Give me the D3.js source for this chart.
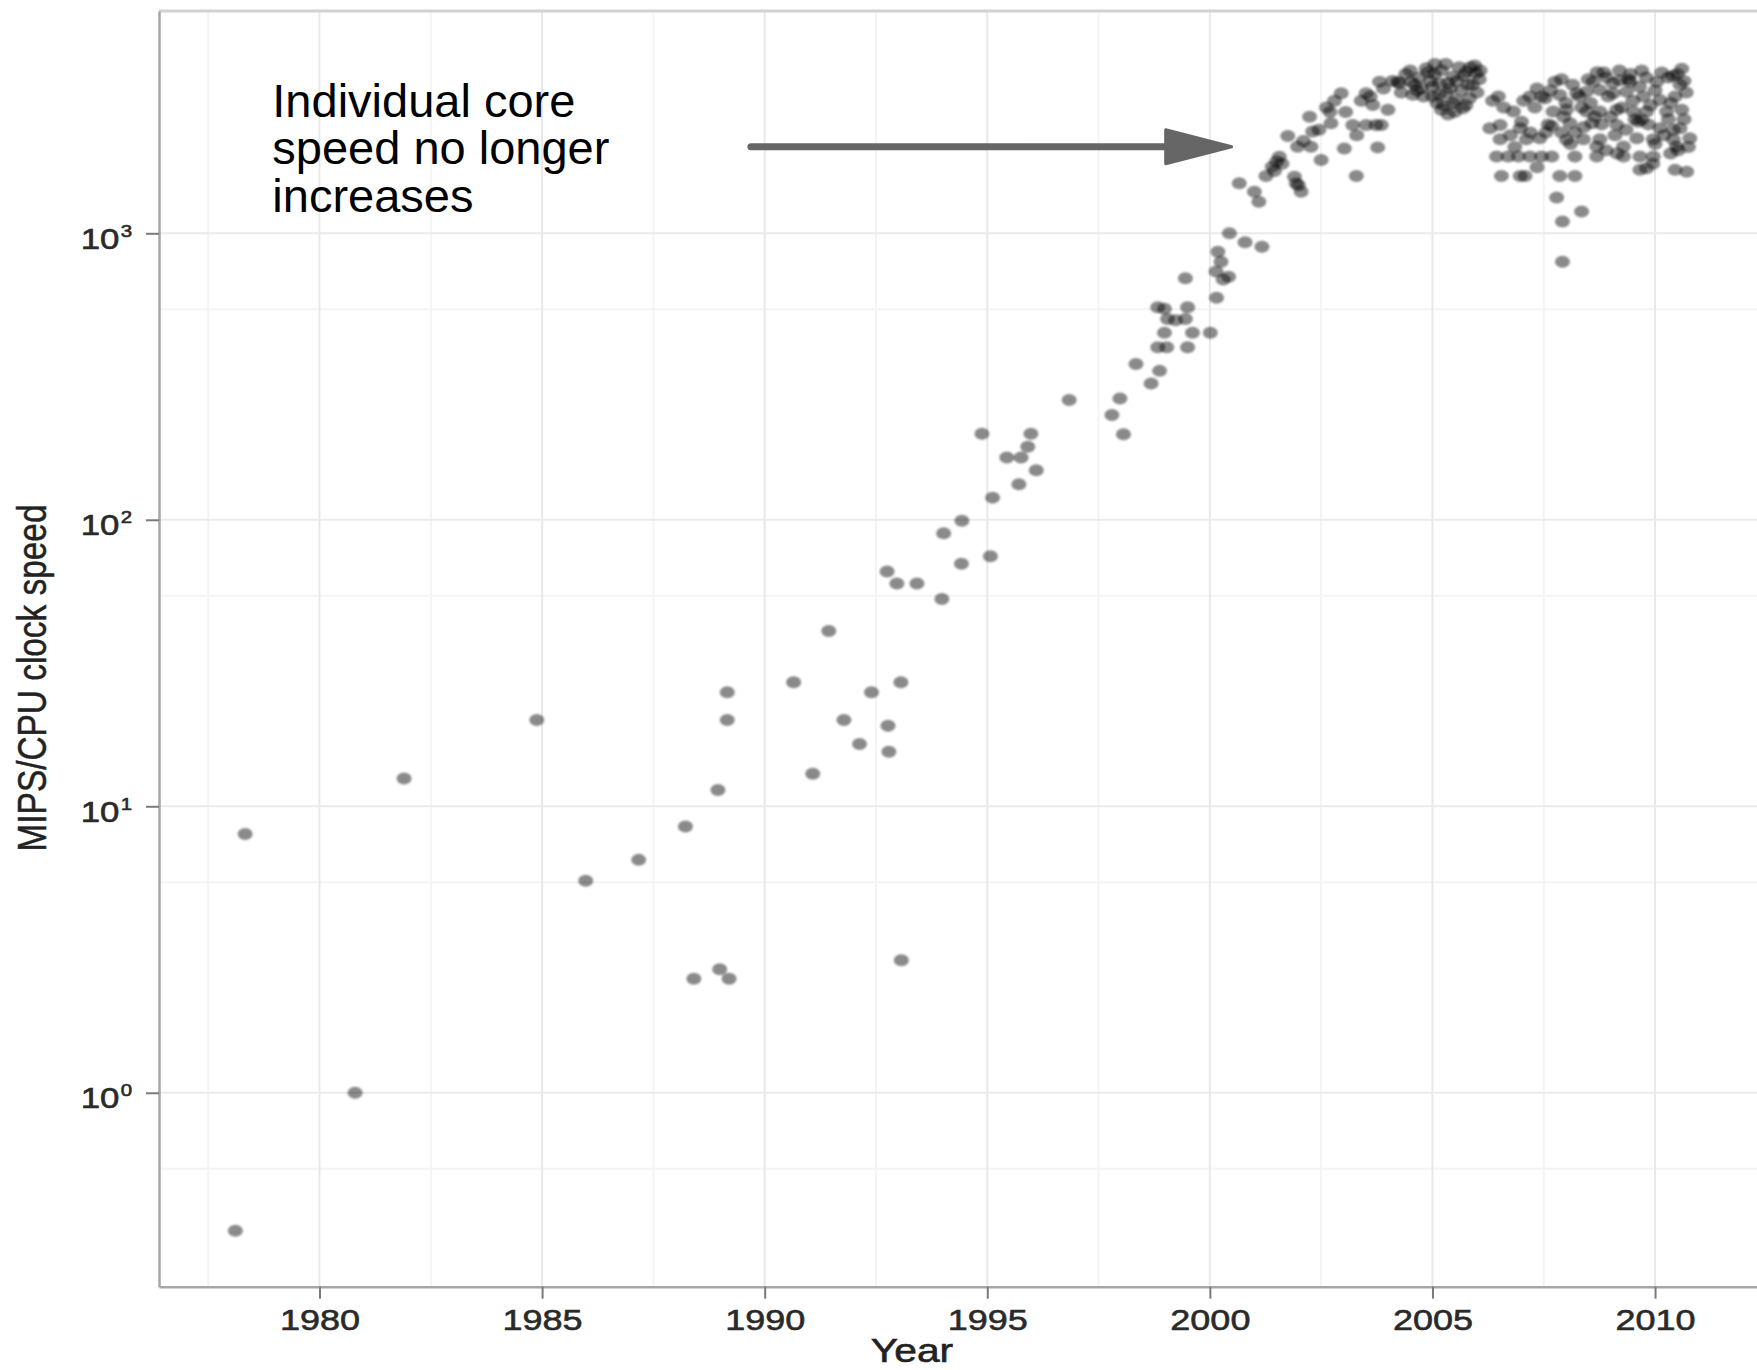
<!DOCTYPE html>
<html><head><meta charset="utf-8">
<script src="https://cdn.jsdelivr.net/npm/d3@7"></script>
<style>body{margin:0;background:#fff}svg{display:block}</style>
</head><body><svg id="chart" width="1757" height="1370"></svg>
<script>
// ---------- data ----------
const years = [
1978.11,1978.33,1980.80,1981.90,1984.88,1985.98,1987.17,1988.22,1988.41,1988.95,1988.99,1989.16,1989.16,1989.20,
1990.65,1991.08,1991.44,1991.78,1992.13,1992.40,1992.75,1992.77,1992.79,1992.97,1993.06,1993.07,1993.42,1993.98,
1994.02,1994.42,1994.43,1994.88,1995.07,1995.12,1995.44,1995.71,1995.76,1995.91,1995.98,1996.10,1996.84,
1997.80,1997.98,1998.06,1998.34,1998.68,1998.87,1998.83,1999.03,1999.50,1998.98,1999.61,2000.01,1999.05,1999.23,
1999.45,1998.83,1998.98,1999.50,2000.15,1999.45,2000.30,2000.42,2000.14,2000.25,2000.18,2000.44,2000.79,2001.17,
2000.66,2001.00,2001.10,2001.26,2001.40,2001.50,2001.56,2001.75,2001.90,2001.94,2001.99,2002.05,2001.97,2002.27,
2002.31,2002.50,2002.24,2002.62,2002.70,2002.72,2002.95,2003.02,2003.29,2003.21,2003.51,2003.73,2003.85,2003.51,
2003.60,2003.66,2003.81,2003.77,2004.26,2004.52,2004.56,2004.30,
2001.45,2001.62,2002.10,2002.45,2002.80,2003.05,2003.40,2003.90,2004.10,2003.30,2004.00,
2004.86,2005.04,2005.16,2005.01,2005.31,2005.53,2005.68,2005.46,2005.76,2005.98,2005.83,2004.95,2005.20,2005.40,
2005.10,2005.60,2004.70,2004.75,2005.90,2005.25,2005.05,2005.55,2006.07,2005.80,2006.00,2005.35,2005.50,2004.22,
2004.40,2004.60,2004.80,2004.90,2005.00,2005.15,2005.30,2005.35,2005.45,2005.65,2005.70,2005.85,2006.05,2004.50,
2005.20,2005.75,2005.95,2004.65,
2007.92,2007.92,2007.79,2008.35,2006.55,2006.97,2007.08,2007.86,2008.20,2009.66,2009.81,2010.45,2010.71,
2006.44,2006.70,2006.93,2007.19,2007.45,2007.68,2008.20,2008.69,2009.29,2009.66,2009.96,
2008.69,2009.29,2010.48,2010.52,
2006.52,2007.11,2007.41,2008.01,2008.39,2008.76,2009.59,2009.96,2010.41,2010.78,
2006.29,2006.52,2006.97,2007.68,2007.60,2008.09,2008.58,2009.14,2009.70,2009.62,2010.11,2010.41,2010.56,
2006.82,2007.71,2008.01,2008.46,2008.76,2009.14,2009.51,2009.81,2010.26,2010.60,
2006.48,2007.19,2007.53,2007.45,2007.86,2008.24,2008.30,2008.46,2008.76,2009.06,2009.36,2009.74,2010.11,2010.56,2010.45,
2007.75,2008.61,2008.91,2009.21,2009.44,2010.04,2010.30,2008.85,2009.20,2009.45,2010.15,2010.40,
2007.30,2008.00,2008.55,2009.00,2009.35,2009.90,2010.30,2007.00,2008.90,2010.00,2007.90,2009.50,2010.65,2007.20,2008.40,
2006.35,2006.60,2006.75,2007.05,2007.35,2007.55,2007.65,2007.95,2008.15,2008.20,2008.35,2008.50,2008.65,2008.80,
2008.95,2009.05,2009.10,2009.25,2009.40,2009.55,2009.65,2009.80,2009.85,2010.00,2010.20,2010.35,2010.50,2010.65,
2010.70,2010.75,2009.70,2010.60,2008.70,2007.90,2008.10,2009.15,2006.85,2007.35,2009.95,2010.35
];
const mips = [
0.33,8.0,1.0,12.5,20.0,5.5,6.5,8.5,2.5,11.4,2.7,25.0,20.0,2.5,
27.1,13.0,40.9,20.0,16.5,25.0,66,19.1,15.5,59.9,27.1,2.9,59.9,52.9,
89.8,70.2,99.3,199.5,74.6,119.5,165,133,165,180,199.5,149,262,
232,265,199,350,299,331,400,400,400,450,450,450,502,497,
502,552,545,552,596,697,690,705,735,796,863,1000,931,898,
1496,1397,1289,1585,1709,1780,1850,2188,1577,1496,1470,1397,2005,2005,
2265,1803,2552,2750,2650,2421,3084,1978,1585,2389,2389,2389,2389,3084,
3000,2805,3383,1995,3343,3383,3044,3100,
1650,1750,2100,2300,2900,2650,2900,3200,3400,2200,2700,
3767,3595,3343,3000,3083,2920,2730,3524,3667,3620,2960,3400,3700,3200,
2850,3800,3500,3200,3300,2800,3900,3400,3700,3300,3100,2600,2650,3380,
3600,3300,3000,3650,3250,3050,3900,3350,2850,3150,3550,3800,3450,3700,
2700,2800,3850,3150,
796,1099,1333,1191,1585,1585,1585,1585,1585,1665,1687,1665,1640,
1854,1854,1854,1854,1854,1854,1854,1854,1854,1854,1854,
2009,2009,2009,1950,
2130,2130,2147,2119,2130,2130,2147,2130,2130,2147,
2328,2390,2328,2370,2400,2423,2423,2390,2489,2450,2328,2300,2328,
2661,2661,2697,2661,2661,2697,2661,2661,2661,2697,
3000,3000,2960,3000,3040,3080,3000,3120,3164,3080,3120,3000,2920,3298,3000,
3381,3381,3500,3420,3381,3381,3500,3640,3700,3600,3640,3550,
2750,2850,2850,2550,2300,2800,2500,2450,1950,2050,2250,2900,3400,2250,2350,
2900,2750,2200,2900,3200,2250,3150,2550,3300,2250,2750,3450,2550,2400,
3000,3350,2200,2750,3450,2500,3250,3500,2400,3150,2200,2850,3600,2500,
3100,2000,3700,3750,3650,3450,2050,1900,2000,1700,1750,1900
];
const xTicks = [1980, 1985, 1990, 1995, 2000, 2005, 2010];
const xMinor = [1977.5, 1982.5, 1987.5, 1992.5, 1997.5, 2002.5, 2007.5];
const yTicks = [1, 10, 100, 1000];
const yExponents = ["0", "1", "2", "3"];
const yMinor = [0.543, 5.43, 54.3, 543];
const xTitle = "Year";
const yTitle = "MIPS/CPU clock speed";
const noteLines = ["Individual core", "speed no longer", "increases"];
const noteAt = [1978.94, 2005];
const arrowFrom = [1989.69, 2006];
const arrowTo = [2000.49, 2006];

// ---------- layout ----------
const W = 1757, H = 1370;
const L = 159, T = 11, R = 1757, B = 1286.7;
const svg = d3.select("#chart");
const x = d3.scaleLinear().domain([1976.395, 2012.29]).range([L, R]);
const y = d3.scaleLog().domain([0.2104, 5970]).range([B, T]);
const pts = years.map((yr, i) => ({yr, v: mips[i]}));
const FONT = "'Liberation Sans', Arial, sans-serif";

const defs = svg.append("defs");
defs.append("filter").attr("id", "soft").append("feGaussianBlur").attr("stdDeviation", 0.9);
defs.append("clipPath").attr("id", "clip").append("rect")
  .attr("x", L).attr("y", T).attr("width", R - L).attr("height", B - T);

svg.append("rect").attr("width", W).attr("height", H).attr("fill", "#fff");

// grid
const grid = svg.append("g");
grid.selectAll(".vmin").data(xMinor).join("line")
  .attr("x1", d => x(d)).attr("x2", d => x(d)).attr("y1", T).attr("y2", B)
  .attr("stroke", "#f4f4f4").attr("stroke-width", 2);
grid.selectAll(".hmin").data(yMinor).join("line")
  .attr("x1", L).attr("x2", R).attr("y1", d => y(d)).attr("y2", d => y(d))
  .attr("stroke", "#f4f4f4").attr("stroke-width", 2);
grid.selectAll(".vmaj").data(xTicks).join("line")
  .attr("x1", d => x(d)).attr("x2", d => x(d)).attr("y1", T).attr("y2", B)
  .attr("stroke", "#e8e8e8").attr("stroke-width", 2);
grid.selectAll(".hmaj").data(yTicks).join("line")
  .attr("x1", L).attr("x2", R).attr("y1", d => y(d)).attr("y2", d => y(d))
  .attr("stroke", "#ebebeb").attr("stroke-width", 2);

// points
svg.append("g").attr("clip-path", "url(#clip)").attr("filter", "url(#soft)")
  .selectAll("ellipse").data(pts).join("ellipse")
  .attr("cx", d => x(d.yr)).attr("cy", d => y(d.v))
  .attr("rx", 7.5).attr("ry", 6)
  .attr("fill", "#000").attr("fill-opacity", 0.46);

// top border
svg.append("line").attr("x1", L).attr("x2", R).attr("y1", T).attr("y2", T)
  .attr("stroke", "#d2d2d2").attr("stroke-width", 3);

// x axis
const xAxis = svg.append("g").attr("transform", `translate(0,${B})`)
  .call(d3.axisBottom(x).tickValues(xTicks).tickSize(12).tickSizeOuter(0)
    .tickPadding(10).tickFormat(d3.format("d")));
xAxis.select(".domain").attr("stroke", "#a6a6a6").attr("stroke-width", 2.5);
xAxis.selectAll(".tick line").attr("stroke", "#7a7a7a").attr("stroke-width", 2);
xAxis.selectAll(".tick text")
  .attr("font-family", FONT).attr("font-size", 30)
  .attr("fill", "#2a2a2a").attr("stroke", "#2a2a2a").attr("stroke-width", 0.6)
  .attr("transform", "scale(1.2,1)");

// y axis
const yAxis = svg.append("g").attr("transform", `translate(${L},0)`)
  .call(d3.axisLeft(y).tickValues(yTicks).tickSize(13).tickSizeOuter(0).tickFormat(""));
yAxis.select(".domain").attr("stroke", "#a6a6a6").attr("stroke-width", 2.5);
yAxis.selectAll(".tick line").attr("stroke", "#7a7a7a").attr("stroke-width", 2);
yAxis.selectAll(".tick").each(function(d, i) {
  const t = d3.select(this).append("text")
    .attr("text-anchor", "end").attr("x", -22.5).attr("y", 15)
    .attr("transform", "scale(1.2,1)")
    .attr("font-family", FONT)
    .attr("fill", "#2a2a2a").attr("stroke", "#2a2a2a").attr("stroke-width", 0.6);
  t.append("tspan").attr("font-size", 29).text("10");
  t.append("tspan").attr("font-size", 17).attr("dy", -12).attr("dx", 1).text(yExponents[i]);
});

// axis titles
svg.append("text")
  .attr("transform", `translate(912,1362) scale(1.2,1)`)
  .attr("text-anchor", "middle")
  .attr("font-family", FONT).attr("font-size", 34)
  .attr("fill", "#222").attr("stroke", "#222").attr("stroke-width", 0.6).text(xTitle);
svg.append("text")
  .attr("transform", `translate(46,678) scale(1.2,1) rotate(-90)`)
  .attr("text-anchor", "middle")
  .attr("font-family", FONT).attr("font-size", 33.4)
  .attr("fill", "#222").attr("stroke", "#222").attr("stroke-width", 0.4).text(yTitle);

// annotation text
const note = svg.append("text")
  .attr("font-family", FONT).attr("font-size", 47)
  .attr("fill", "#000");
note.selectAll("tspan").data(noteLines).join("tspan")
  .attr("x", x(noteAt[0]))
  .attr("y", (d, i) => y(noteAt[1]) - 30 + i * 47.4)
  .text(d => d);

// arrow
const ax1 = x(arrowFrom[0]), ay = y(arrowFrom[1]), ax2 = x(arrowTo[0]);
const headLen = 66, headHalf = 17;
svg.append("line")
  .attr("x1", ax1).attr("y1", ay).attr("x2", ax2 - headLen + 4).attr("y2", ay)
  .attr("stroke", "#666").attr("stroke-width", 7).attr("stroke-linecap", "round");
svg.append("path")
  .attr("d", `M${ax2 - headLen},${ay - headHalf} L${ax2},${ay} L${ax2 - headLen},${ay + headHalf} Z`)
  .attr("fill", "#666").attr("stroke", "#666").attr("stroke-width", 3).attr("stroke-linejoin", "round");
</script>
</body></html>
